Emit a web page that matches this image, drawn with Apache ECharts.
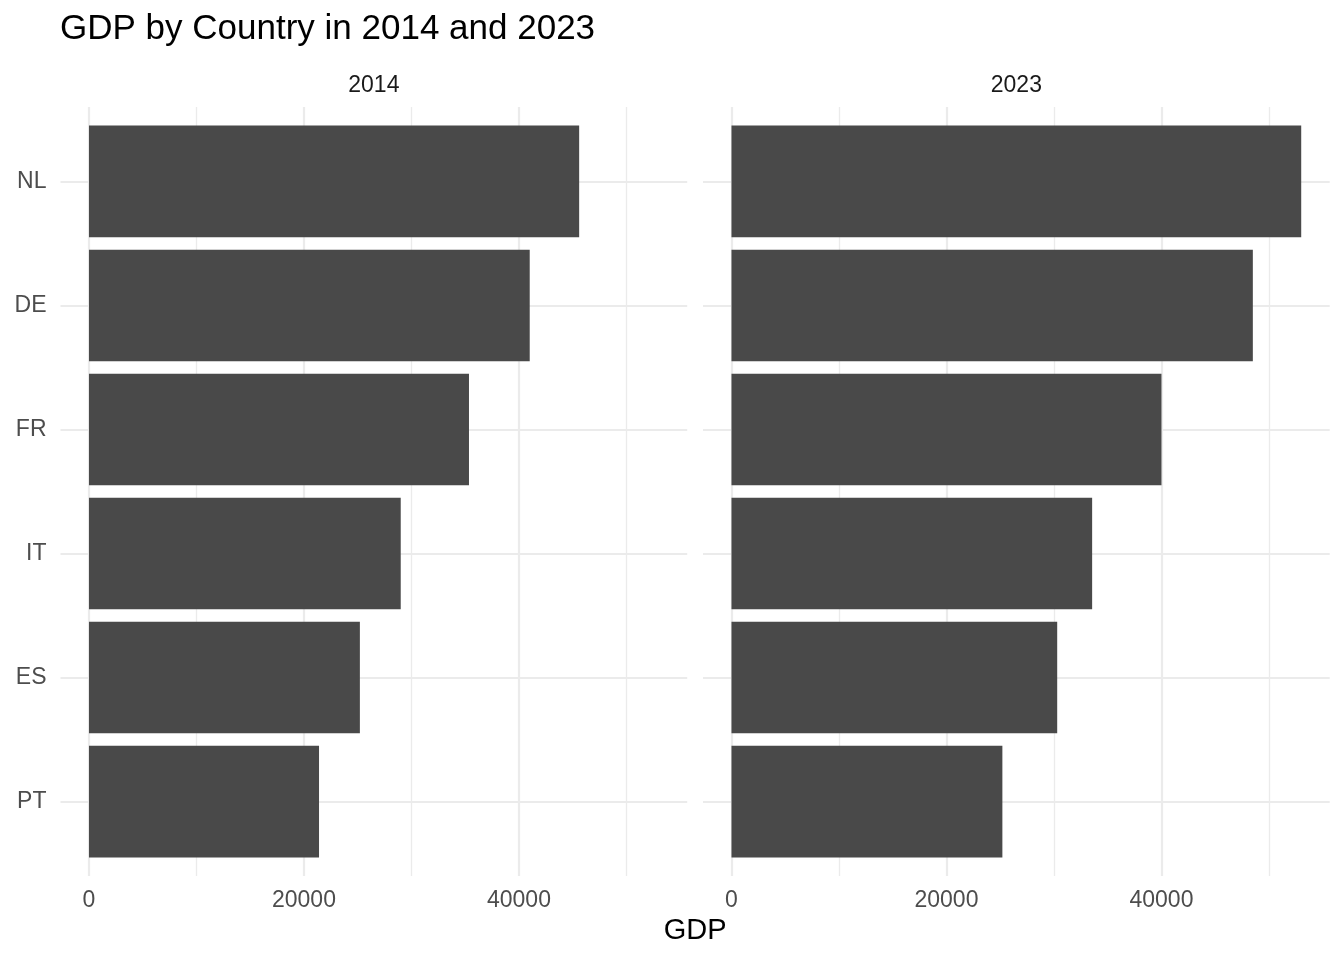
<!DOCTYPE html>
<html>
<head>
<meta charset="utf-8">
<script src="https://cdn.jsdelivr.net/npm/echarts@6/dist/echarts.min.js"></script>
<style>
html,body{margin:0;padding:0;background:#ffffff;}
#chart{width:1344px;height:960px;}
</style>
</head>
<body>
<div id="chart"></div>
<script>
// ---- data ----
const countries = ['NL', 'DE', 'FR', 'IT', 'ES', 'PT'];   // top to bottom
const years = ['2014', '2023'];
const gdp2014 = [45600, 41000, 35350, 29000, 25200, 21400];
const gdp2023 = [53000, 48500, 40000, 33550, 30300, 25200];
const majorTicks = [0, 20000, 40000];
const minorTicks = [10000, 30000, 50000];
const chartTitle = 'GDP by Country in 2014 and 2023';
const xTitle = 'GDP';

// ---- layout / style ----
const FONT = '"Liberation Sans", Arial, Helvetica, sans-serif';
const GRID_COLOR = '#ebebeb';
const BAR_COLOR = '#494949';
const BAR_WIDTH = 0.9;
const panelLeft = [60.5, 703];
const panelWidth = 626.7;
const panelTop = 107;
const panelHeight = 769;

const allVals = gdp2014.concat(gdp2023);
const maxV = Math.max(...allVals);
const pad = maxV * 0.05;
const xMin = -pad, xMax = maxV + pad;
const positions = countries.map((c, i) => i + 1);

const chart = echarts.init(document.getElementById('chart'), null, {renderer: 'canvas'});

function makeX(gridIndex, ticks, showLabels, width) {
  return {
    type: 'value', gridIndex: gridIndex, min: xMin, max: xMax,
    position: showLabels ? 'bottom' : 'top',
    axisLine: {show: false},
    axisTick: {show: false, customValues: ticks},
    axisLabel: {show: showLabels, customValues: ticks, color: '#4d4d4d', fontSize: 23,
      fontFamily: FONT, margin: 13, formatter: v => String(Math.round(v))},
    splitLine: {show: true, lineStyle: {color: GRID_COLOR, width: width}}
  };
}
function makeY(gridIndex, showLabels) {
  return {
    type: 'value', gridIndex: gridIndex, inverse: true,
    min: 1 - 0.6, max: countries.length + 0.6,
    axisLine: {show: false},
    axisTick: {show: false, customValues: positions},
    axisLabel: {show: showLabels, customValues: positions, color: '#4d4d4d', fontSize: 23,
      fontFamily: FONT, margin: 14, padding: [4, 0, 0, 0],
      formatter: v => countries[Math.round(v) - 1] || ''},
    splitLine: {show: true, lineStyle: {color: GRID_COLOR, width: 2}}
  };
}
function renderBar(params, api) {
  const v = api.value(0), p = api.value(1);
  const s = api.coord([0, p]);
  const e = api.coord([v, p]);
  const h = api.size([0, BAR_WIDTH])[1];
  return {
    type: 'rect',
    shape: {x: s[0], y: s[1] - h / 2, width: e[0] - s[0], height: h},
    style: {fill: BAR_COLOR}
  };
}
function barSeries(idx, vals) {
  return {
    type: 'custom', xAxisIndex: idx, yAxisIndex: idx,
    renderItem: renderBar, encode: {x: 0, y: 1},
    data: vals.map((v, i) => [v, positions[i]]),
    z: 5, silent: true
  };
}

const option = {
  animation: false,
  backgroundColor: '#ffffff',
  grid: [
    {left: panelLeft[0], top: panelTop, width: panelWidth, height: panelHeight, containLabel: false},
    {left: panelLeft[1], top: panelTop, width: panelWidth, height: panelHeight, containLabel: false}
  ],
  xAxis: [
    makeX(0, majorTicks, true, 2.2),
    makeX(1, majorTicks, true, 2.2),
    makeX(0, minorTicks, false, 1.3),
    makeX(1, minorTicks, false, 1.3)
  ],
  yAxis: [makeY(0, true), makeY(1, false)],
  series: [barSeries(0, gdp2014), barSeries(1, gdp2023)],
  graphic: [
    {type: 'text', x: 60, y: 29, style: {text: chartTitle, fill: '#000000', fontSize: 35, fontFamily: FONT, align: 'left', verticalAlign: 'middle'}},
    {type: 'text', x: panelLeft[0] + panelWidth / 2, y: 86,
      style: {text: years[0], fill: '#1a1a1a', fontSize: 23, fontFamily: FONT, align: 'center', verticalAlign: 'middle'}},
    {type: 'text', x: panelLeft[1] + panelWidth / 2, y: 86,
      style: {text: years[1], fill: '#1a1a1a', fontSize: 23, fontFamily: FONT, align: 'center', verticalAlign: 'middle'}},
    {type: 'text', x: (panelLeft[0] + panelLeft[1] + panelWidth) / 2, y: 931,
      style: {text: xTitle, fill: '#000000', fontSize: 29, fontFamily: FONT, align: 'center', verticalAlign: 'middle'}}
  ]
};
chart.setOption(option);
</script>
</body>
</html>
